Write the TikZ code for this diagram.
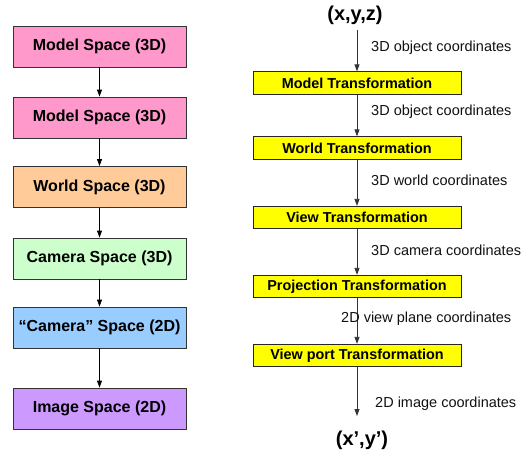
\documentclass[tikz,border=0pt]{standalone}
\usepackage{fontspec}
\setmainfont{Liberation Sans}
\usetikzlibrary{arrows.meta}
\definecolor{cpink}{HTML}{FF99CC}
\definecolor{corange}{HTML}{FFCC99}
\definecolor{cgreen}{HTML}{CCFFCC}
\definecolor{cblue}{HTML}{99CCFF}
\definecolor{cpurple}{HTML}{CC99FF}
\definecolor{cyel}{HTML}{FFFF00}
\definecolor{cline}{HTML}{333333}
\definecolor{ctext}{HTML}{111111}
\begin{document}
\begin{tikzpicture}[x=1pt,y=-1pt,
  spacebox/.style={draw=cline,line width=0.8pt,minimum width=173pt,minimum height=41pt,inner sep=0pt,font=\fontsize{16}{19}\selectfont\bfseries},
  trbox/.style={draw=black!85,line width=0.8pt,fill=cyel,minimum width=208pt,minimum height=22.5pt,inner sep=0pt,font=\fontsize{14.4}{17}\selectfont\bfseries},
  lab/.style={anchor=west,inner sep=0pt,text=ctext,font=\fontsize{14.5}{17}\selectfont},
  coord/.style={inner sep=0pt,font=\fontsize{20}{24}\selectfont\bfseries},
  arr/.style={-{Triangle[width=5pt,length=7pt]},line width=0.8pt},
  arrg/.style={-{Triangle[width=5pt,length=7pt]},line width=0.8pt,draw=cline}]
\useasboundingbox (0,0) rectangle (526,455);
% left column
\node[spacebox,fill=cpink]   (m1) at (99.5,46.5)  {Model Space (3D)};
\node[spacebox,fill=cpink]   (m2) at (99.5,117.5) {Model Space (3D)};
\node[spacebox,fill=corange] (w)  at (99.5,187)   {World Space (3D)};
\node[spacebox,fill=cgreen]  (c)  at (99.5,258.5) {Camera Space (3D)};
\node[spacebox,fill=cblue]   (c2) at (99.5,327.5) {“Camera” Space (2D)};
\node[spacebox,fill=cpurple] (im) at (99.5,408.5) {Image Space (2D)};
\draw[arr] (m1) -- (m2);
\draw[arr] (m2) -- (w);
\draw[arr] (w) -- (c);
\draw[arr] (c) -- (c2);
\draw[arr] (c2) -- (im);
% right column
\node[coord] (xyz) at (355,15) {(x,y,z)};
\node[trbox] (mt) at (357,83)    {Model Transformation};
\node[trbox] (wt) at (357,148)   {World Transformation};
\node[trbox] (vt) at (357,217.5) {View Transformation};
\node[trbox] (pt) at (357,286.5) {Projection Transformation};
\node[trbox] (vp) at (357,355.5) {View port Transformation};
\node[coord] (xy) at (362,440) {(x’,y’)};
\coordinate (top) at (357,30);
\coordinate (bot) at (357,416);
\draw[arrg] (top) -- (mt);
\draw[arrg] (mt) -- (wt);
\draw[arrg] (wt) -- (vt);
\draw[arrg] (vt) -- (pt);
\draw[arrg] (pt) -- (vp);
\draw[arrg] (vp.south) -- (bot);
\node[lab] (l1) at (371,48)  {3D object coordinates};
\node[lab] (l2) at (371,112) {3D object coordinates};
\node[lab] (l3) at (371,180) {3D world coordinates};
\node[lab] (l4) at (371,250) {3D camera coordinates};
\node[lab] (l5) at (341,319) {2D view plane coordinates};
\node[lab] (l6) at (375,404) {2D image coordinates};
\end{tikzpicture}
\end{document}
